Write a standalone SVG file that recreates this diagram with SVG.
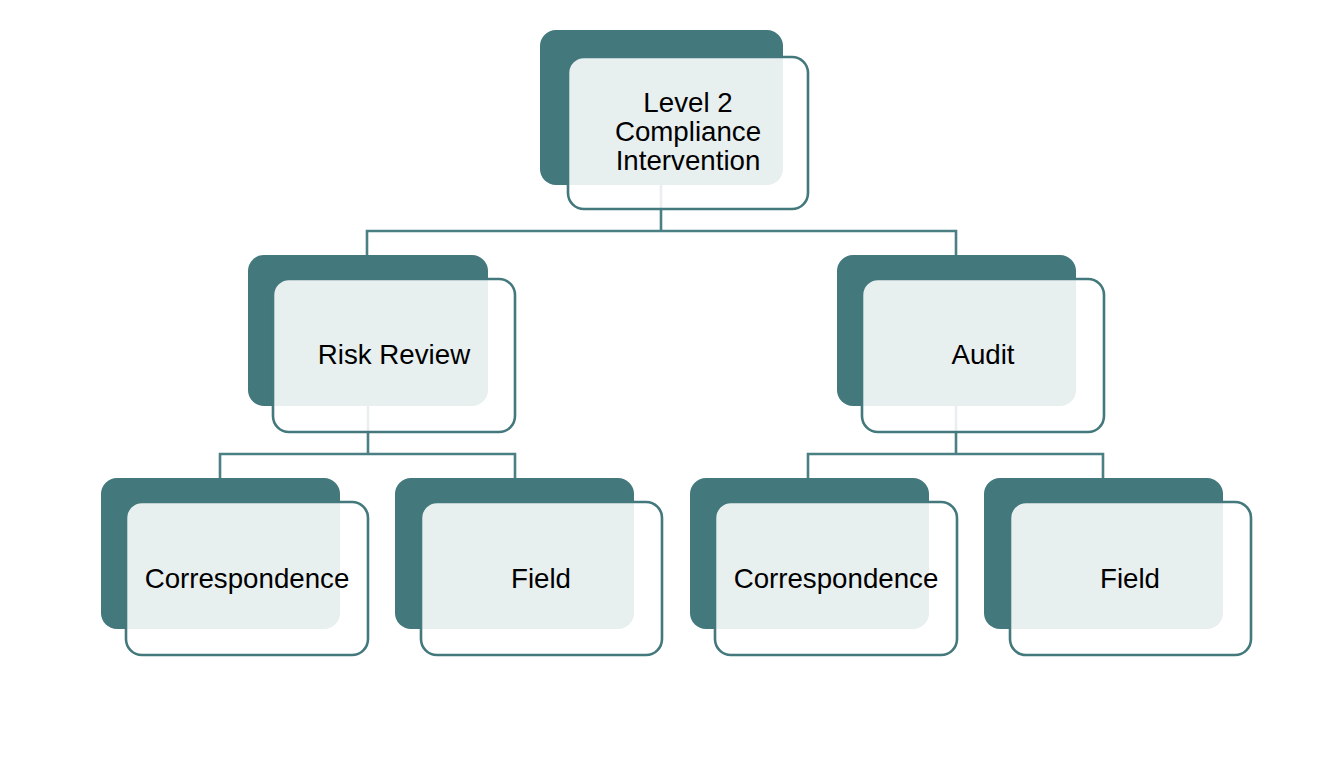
<svg xmlns="http://www.w3.org/2000/svg" width="1328" height="784" viewBox="0 0 1328 784">
  <style>
    .back { fill: #43787C; }
    .front { fill: #ffffff; fill-opacity: 0.88; stroke: #43787C; stroke-width: 2.6; }
    .conn { fill: none; stroke: #4A7F83; stroke-width: 2.6; }
    .label { font-family: "Liberation Sans", Arial, Helvetica, sans-serif; font-size: 27.7px; fill: #000000; text-anchor: middle; }
  </style>
  <rect width="1328" height="784" fill="#ffffff"/>
  <g id="connectors">
    <path class="conn" d="M661 170 V231 M367 256 V231 H956 V256"/>
    <path class="conn" d="M368 390 V454 M220 479 V454 H515 V479"/>
    <path class="conn" d="M956 390 V454 M808 479 V454 H1103 V479"/>
  </g>
  <g id="node-top">
    <rect class="back" x="540" y="30" width="243" height="155" rx="16"/>
    <rect class="front" x="568" y="57" width="240" height="152" rx="16"/>
    <text class="label" x="688" y="112">Level 2</text>
    <text class="label" x="688" y="141">Compliance</text>
    <text class="label" x="688" y="170">Intervention</text>
  </g>
  <g id="node-risk-review">
    <rect class="back" x="248" y="255" width="240" height="151" rx="16"/>
    <rect class="front" x="273" y="279" width="242" height="153" rx="16"/>
    <text class="label" x="394" y="364">Risk Review</text>
  </g>
  <g id="node-audit">
    <rect class="back" x="837" y="255" width="239" height="151" rx="16"/>
    <rect class="front" x="862" y="279" width="242" height="153" rx="16"/>
    <text class="label" x="983" y="364">Audit</text>
  </g>
  <g id="node-correspondence-1">
    <rect class="back" x="101" y="478" width="239" height="151" rx="16"/>
    <rect class="front" x="126" y="502" width="242" height="153" rx="16"/>
    <text class="label" x="247" y="588">Correspondence</text>
  </g>
  <g id="node-field-1">
    <rect class="back" x="395" y="478" width="239" height="151" rx="16"/>
    <rect class="front" x="421" y="502" width="241" height="153" rx="16"/>
    <text class="label" x="541" y="588">Field</text>
  </g>
  <g id="node-correspondence-2">
    <rect class="back" x="690" y="478" width="239" height="151" rx="16"/>
    <rect class="front" x="715" y="502" width="242" height="153" rx="16"/>
    <text class="label" x="836" y="588">Correspondence</text>
  </g>
  <g id="node-field-2">
    <rect class="back" x="984" y="478" width="239" height="151" rx="16"/>
    <rect class="front" x="1010" y="502" width="241" height="153" rx="16"/>
    <text class="label" x="1130" y="588">Field</text>
  </g>
</svg>
